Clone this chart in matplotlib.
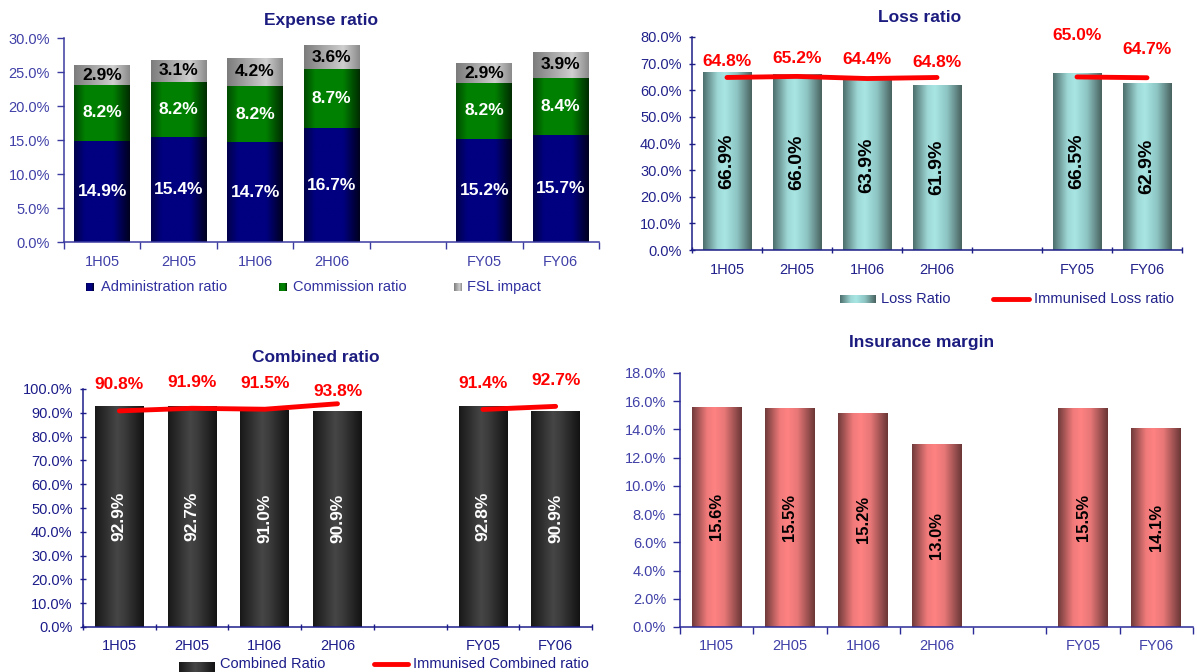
import numpy as np
import matplotlib
matplotlib.use('Agg')
import matplotlib.pyplot as plt
from matplotlib.colors import LinearSegmentedColormap
from matplotlib.ticker import FuncFormatter
from matplotlib.lines import Line2D

plt.rcParams['font.family'] = ['Liberation Sans', 'DejaVu Sans']

# ---------------- data ----------------
nan = np.nan
categories = ['1H05', '2H05', '1H06', '2H06', '', 'FY05', 'FY06']

admin_ratio = [14.9, 15.4, 14.7, 16.7, nan, 15.2, 15.7]
commission_ratio = [8.2, 8.2, 8.2, 8.7, nan, 8.2, 8.4]
fsl_impact = [2.9, 3.1, 4.2, 3.6, nan, 2.9, 3.9]

loss_ratio = [66.9, 66.0, 63.9, 61.9, nan, 66.5, 62.9]
immunised_loss = [64.8, 65.2, 64.4, 64.8, nan, 65.0, 64.7]

combined_ratio = [92.9, 92.7, 91.0, 90.9, nan, 92.8, 90.9]
immunised_combined = [90.8, 91.9, 91.5, 93.8, nan, 91.4, 92.7]

insurance_margin = [15.6, 15.5, 15.2, 13.0, nan, 15.5, 14.1]

# ---------------- layout / style ----------------
W, H = 1197, 672
fig = plt.figure(figsize=(W / 100, H / 100), dpi=100)

loss_label_offsets = [6.0, 6.6, 7.2, 5.8, 0, 15.6, 10.5]
combined_label_offsets = [11.3, 10.8, 10.8, 5.3, 0, 10.9, 10.7]

TICK_FS = 10.5
ST_ADMIN = [(0, '#00004A'), (0.2, '#000080'), (0.7, '#000080'), (1, '#00001E')]
ST_COMM = [(0, '#004A00'), (0.2, '#008000'), (0.7, '#008000'), (1, '#002A00')]
ST_FSL = [(0, '#7C7C7C'), (0.7, '#CFCFCF'), (1, '#8A8A8A')]
ST_TEAL = [(0, '#4C6E6C'), (0.3, '#9ED8D6'), (0.45, '#A8E6E4'), (0.7, '#8CC4C2'), (1, '#48625F')]
ST_BLACK = [(0, '#181818'), (0.45, '#464646'), (0.6, '#3C3C3C'), (1, '#121212')]
ST_PINK = [(0, '#703A3A'), (0.3, '#F07A7A'), (0.45, '#FF8282'), (0.65, '#E87878'), (1, '#6A3636')]

GRAD = np.linspace(0, 1, 256).reshape(1, -1)


def cmap_of(stops):
    return LinearSegmentedColormap.from_list('g', stops)


def fig_axes(left, right, top_px, bottom_px):
    return fig.add_axes([left / W, 1 - bottom_px / H, (right - left) / W, (bottom_px - top_px) / H])


def gradient_bars(ax, bars, stops):
    cm = cmap_of(stops)
    for r in bars:
        x0, y0, w, h = r.get_x(), r.get_y(), r.get_width(), r.get_height()
        im = ax.imshow(GRAD, cmap=cm, extent=[x0, x0 + w, y0, y0 + h], aspect='auto',
                       interpolation='bilinear', zorder=r.get_zorder() + 0.1)
        im.set_clip_path(r)


def draw_bars(ax, values, width, stops, bottom=None):
    idx = [i for i, v in enumerate(values) if np.isfinite(v)]
    vals = [values[i] for i in idx]
    bots = [bottom[i] for i in idx] if bottom is not None else 0
    bars = ax.bar(idx, vals, width=width, bottom=bots, color=stops[len(stops) // 2][1],
                  linewidth=0, zorder=2)
    gradient_bars(ax, bars, stops)
    return idx, vals, bars


def setup_axis(ax, ymax, ystep, label_color, spine_color, tickdir):
    n = len(categories)
    ax.set_xlim(-0.5, n - 0.5)
    ax.set_ylim(0, ymax)
    ax.set_yticks(np.arange(0, ymax + ystep / 2, ystep))
    ax.yaxis.set_major_formatter(FuncFormatter(lambda v, p: f'{v:.1f}%'))
    ax.set_xticks(np.arange(-0.5, n), minor=False)
    ax.set_xticklabels([])
    ax.set_xticks(np.arange(n), minor=True)
    ax.set_xticklabels(categories, minor=True)
    ax.tick_params(axis='x', which='minor', length=0, pad=9, labelsize=TICK_FS, labelcolor=label_color)
    ax.tick_params(axis='x', which='major', direction=tickdir, length=5, width=1, color=spine_color)
    ax.tick_params(axis='y', direction=tickdir, length=5, width=1, color=spine_color,
                   labelsize=TICK_FS, labelcolor=label_color, pad=5)
    for s in ['top', 'right']:
        ax.spines[s].set_visible(False)
    for s in ['left', 'bottom']:
        ax.spines[s].set_color(spine_color)
        ax.spines[s].set_linewidth(1.1)
    ax.set_facecolor('none')


def title(x, y, s):
    fig.text(x / W, 1 - y / H, s, ha='center', va='center', fontsize=12.5, fontweight='bold',
             color='#1C1C80')


def swatch(x0, x1, yc, h, stops):
    a = fig.add_axes([x0 / W, 1 - (yc + h / 2) / H, (x1 - x0) / W, h / H])
    a.imshow(GRAD, cmap=cmap_of(stops), aspect='auto', extent=[0, 1, 0, 1])
    a.axis('off')


def legend_text(x, y, s, color):
    fig.text(x / W, 1 - y / H, s, ha='left', va='center', fontsize=10.5, color=color)


def legend_line(x0, x1, y):
    fig.add_artist(Line2D([x0 / W, x1 / W], [1 - y / H, 1 - y / H], color='#FF0000', lw=3.5,
                          solid_capstyle='round', transform=fig.transFigure))


# ---------------- Expense ratio ----------------
ax1 = fig_axes(64, 599, 38, 242)
setup_axis(ax1, 30, 5, '#4040A8', '#3A3AA0', 'out')
bw = 0.73
idx, v_admin, _ = draw_bars(ax1, admin_ratio, bw, ST_ADMIN)
bottom2 = [a for a in admin_ratio]
_, v_comm, _ = draw_bars(ax1, commission_ratio, bw, ST_COMM, bottom=bottom2)
bottom3 = [a + c for a, c in zip(admin_ratio, commission_ratio)]
_, v_fsl, _ = draw_bars(ax1, fsl_impact, bw, ST_FSL, bottom=bottom3)
for i in idx:
    a, c, f = admin_ratio[i], commission_ratio[i], fsl_impact[i]
    ax1.text(i, a / 2, f'{a:.1f}%', ha='center', va='center', color='white', fontsize=12.5,
             fontweight='bold', zorder=5)
    ax1.text(i, a + c / 2, f'{c:.1f}%', ha='center', va='center', color='white', fontsize=12.5,
             fontweight='bold', zorder=5)
    ax1.text(i, a + c + f / 2, f'{f:.1f}%', ha='center', va='center', color='black', fontsize=12.5,
             fontweight='bold', zorder=5)
title(321, 20, 'Expense ratio')
exp_leg_color = '#3030A0'
swatch(86, 94, 287, 8, ST_ADMIN)
legend_text(101, 287, 'Administration ratio', exp_leg_color)
swatch(279, 287, 287, 8, ST_COMM)
legend_text(293, 287, 'Commission ratio', exp_leg_color)
swatch(454, 462, 287, 8, ST_FSL)
legend_text(467, 287, 'FSL impact', exp_leg_color)

# ---------------- Loss ratio ----------------
ax2 = fig_axes(692, 1182, 37, 250)
setup_axis(ax2, 80, 10, '#22228C', '#1E1E88', 'inout')
idx, vals, _ = draw_bars(ax2, loss_ratio, 0.70, ST_TEAL)
for i, v in zip(idx, vals):
    ax2.text(i, v / 2, f'{v:.1f}%', ha='center', va='center', rotation=90, color='black',
             fontsize=14, fontweight='bold', zorder=5)
ax2.plot(np.arange(len(categories)), immunised_loss, color='#FF0000', lw=3.5,
         solid_capstyle='round', zorder=6)
for i, (v, off) in enumerate(zip(immunised_loss, loss_label_offsets)):
    if np.isfinite(v):
        ax2.text(i, v + off, f'{v:.1f}%', ha='center', va='center', color='#FF0000', fontsize=12.5,
                 fontweight='bold', zorder=7, clip_on=False)
title(920, 17, 'Loss ratio')
swatch(840, 876, 299, 9, ST_TEAL)
legend_text(881, 299, 'Loss Ratio', '#22228C')
legend_line(993, 1029, 299)
legend_text(1034, 299, 'Immunised Loss ratio', '#22228C')

# ---------------- Combined ratio ----------------
ax3 = fig_axes(83, 592, 389, 627)
setup_axis(ax3, 100, 10, '#1C1C8A', '#1C1C8A', 'inout')
idx, vals, _ = draw_bars(ax3, combined_ratio, 0.67, ST_BLACK)
for i, v in zip(idx, vals):
    ax3.text(i, v / 2, f'{v:.1f}%', ha='center', va='center', rotation=90, color='white',
             fontsize=12.5, fontweight='bold', zorder=5)
ax3.plot(np.arange(len(categories)), immunised_combined, color='#FF0000', lw=3.5,
         solid_capstyle='round', zorder=6)
for i, (v, off) in enumerate(zip(immunised_combined, combined_label_offsets)):
    if np.isfinite(v):
        ax3.text(i, v + off, f'{v:.1f}%', ha='center', va='center', color='#FF0000', fontsize=12.5,
                 fontweight='bold', zorder=7, clip_on=False)
title(316, 357, 'Combined ratio')
swatch(179, 215, 667, 10, ST_BLACK)
legend_text(220, 664, 'Combined Ratio', '#1C1C8A')
legend_line(374, 408, 664)
legend_text(413, 664, 'Immunised Combined ratio', '#1C1C8A')

# ---------------- Insurance margin ----------------
ax4 = fig_axes(680, 1193, 373, 627)
setup_axis(ax4, 18, 2, '#4040A8', '#2A2A98', 'out')
idx, vals, _ = draw_bars(ax4, insurance_margin, 0.68, ST_PINK)
for i, v in zip(idx, vals):
    ax4.text(i, v / 2, f'{v:.1f}%', ha='center', va='center', rotation=90, color='black',
             fontsize=12, fontweight='bold', zorder=5)
title(922, 343, 'Insurance margin')

fig.savefig('out.png', dpi=100)
